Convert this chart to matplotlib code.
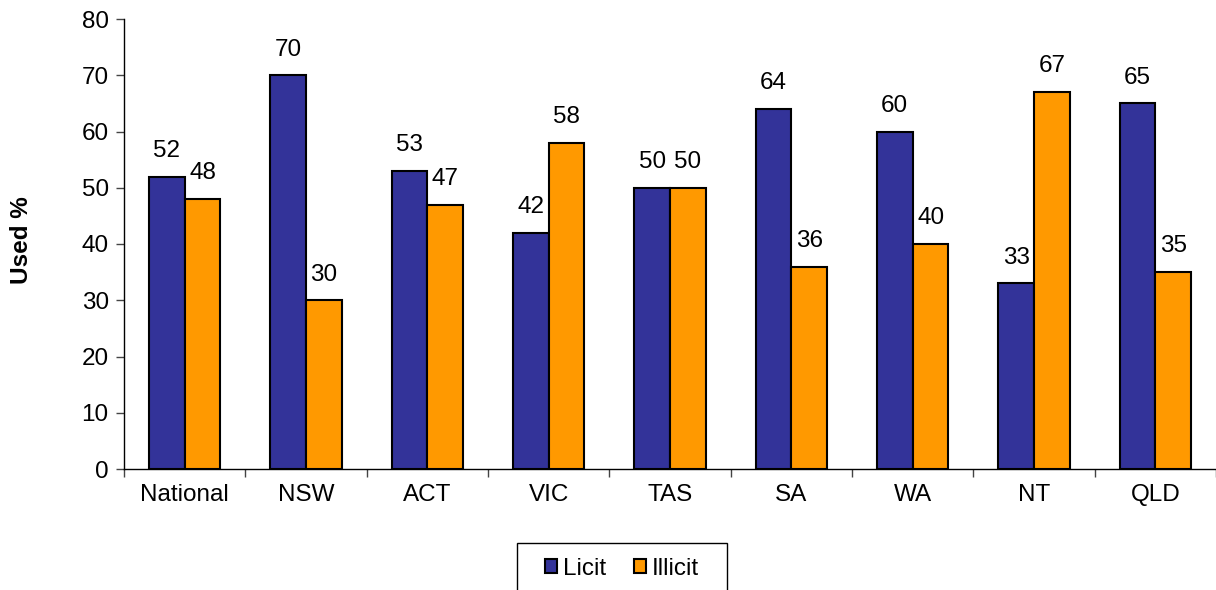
import matplotlib
matplotlib.use("Agg")
import matplotlib.pyplot as plt
from matplotlib.patches import Rectangle
import numpy as np

regions = ["National", "NSW", "ACT", "VIC", "TAS", "SA", "WA", "NT", "QLD"]
licit = [52, 70, 53, 42, 50, 64, 60, 33, 65]
illicit = [48, 30, 47, 58, 50, 36, 40, 67, 35]
y_ticks = [0, 10, 20, 30, 40, 50, 60, 70, 80]

plt.rcParams['font.family'] = ['Liberation Sans', 'DejaVu Sans']
plt.rcParams['font.size'] = 17.5

W, H = 1216, 590
fig = plt.figure(figsize=(W / 100, H / 100), dpi=100)
ax = fig.add_axes([124 / W, 1 - 469 / H, 1 - 124 / W, (469 - 19) / H])

x = np.arange(len(regions))
w = 0.295
b1 = ax.bar(x - w / 2, licit, w, color="#333399", edgecolor="black", linewidth=1.5, label="Licit")
b2 = ax.bar(x + w / 2, illicit, w, color="#FF9900", edgecolor="black", linewidth=1.5, label="Illicit")

for bars, vals in ((b1, licit), (b2, illicit)):
    for rect, v in zip(bars, vals):
        ax.annotate(f"{v}", (rect.get_x() + rect.get_width() / 2, v),
                    xytext=(0, 18.5), textcoords="offset points",
                    ha="center", va="center", fontsize=17.5)

ax.set_ylim(0, 80)
ax.set_yticks(y_ticks)
ax.set_xlim(-0.5, 8.5 - 6 / 122)
ax.set_xticks(x)
ax.set_xticklabels(regions)
ax.set_xticks(np.arange(len(regions) + 1) - 0.5, minor=True)
ax.tick_params(axis="x", which="major", length=0, pad=11)
ax.tick_params(axis="x", which="minor", length=6, direction="out", width=1, color="#444444")
ax.tick_params(axis="y", length=6, direction="out", width=1, color="#444444", pad=5)

for s in ("top", "right"):
    ax.spines[s].set_visible(False)
ax.spines["left"].set_linewidth(1)
ax.spines["bottom"].set_linewidth(1)

fig.text(22 / W, 1 - 240 / H, "Used %", rotation=90, ha="center", va="center",
         fontsize=17.5, fontweight="bold")

# legend entries, with a separate box drawn around them
fig.legend(handles=[b1, b2], labels=["Licit", "Illicit"], loc="center",
           bbox_to_anchor=(622 / W, 1 - 569 / H), ncol=2, frameon=False,
           handlelength=0.5, handleheight=0.5, handletextpad=0.25,
           columnspacing=1.15, borderpad=0, borderaxespad=0, fontsize=17.5)
fig.patches.append(Rectangle((517 / W, -0.01), 210 / W, 1 - 543 / H + 0.01,
                             transform=fig.transFigure, facecolor="none",
                             edgecolor="black", linewidth=1))

fig.savefig("out.png", dpi=100)
